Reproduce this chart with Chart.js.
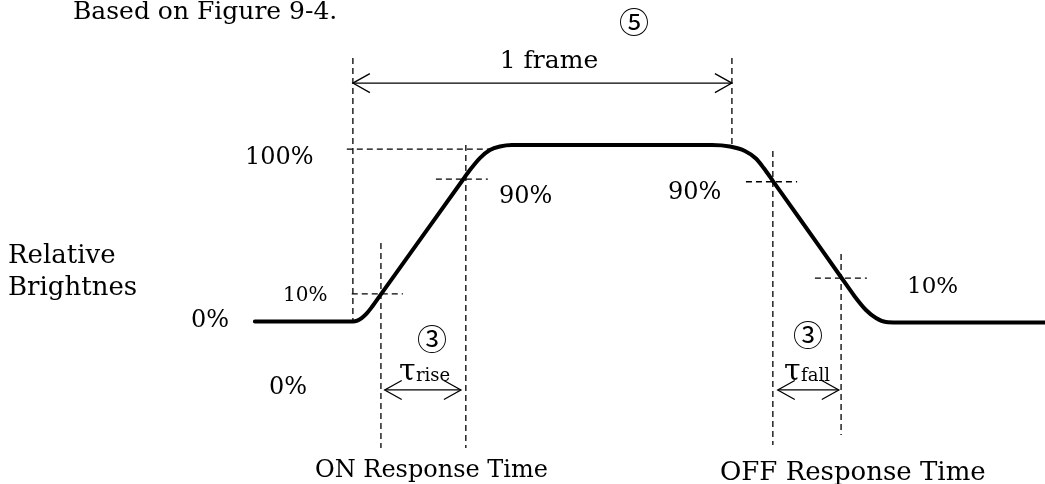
<!DOCTYPE html>
<html>
<head>
<meta charset="utf-8">
<script src="https://cdn.jsdelivr.net/npm/chart.js@4/dist/chart.umd.min.js"></script>
<style>
  html, body { margin: 0; padding: 0; background: #fff; }
  #wrap { width: 1045px; height: 484px; position: relative; }
</style>
</head>
<body>
<div id="wrap"><canvas id="c"></canvas></div>
<script>
// time in % of one frame (0 = frame start, 100 = frame end), level in % brightness
const curveTime  = [-25.86, 0, 1.16, 2.39, 3.66, 5.0, 7.39, 17.68, 28.23, 30.87, 33.51, 36.15, 38.79, 41.95,
                    94.72, 99.47, 103.43, 106.33, 108.44, 110.82, 117.94, 128.76, 132.45, 135.36, 138.0, 140.63, 143.54, 182.6];
const curveLevel = [0, 0, 0.51, 2.05, 4.6, 8.18, 15.35, 46.23, 77.9, 85.84, 92.63, 97.17, 99.15, 100,
                    100, 99.15, 96.6, 92.35, 86.8, 79.6, 58.07, 25.21, 14.05, 6.52, 1.98, -0.3, -0.57, -0.57];

// dashed guide segments: [t1, level1, t2, level2]
const guideLines = [
  [0, 149.3, 0, 0],          // frame start
  [100, 149.3, 100, 100],    // frame end
  [-1.6, 97.7, 37.0, 97.7],  // 100% level
  [-0.3, 15.6, 13.2, 15.6],  // rise 10%
  [7.4, 44.5, 7.4, -71.7],
  [21.9, 80.7, 35.6, 80.7],  // rise 90%
  [29.8, 100, 29.8, -71.7],
  [103.7, 79.2, 117.2, 79.2],// fall 90%
  [110.8, 96.6, 110.8, -70.0],
  [121.9, 24.6, 135.6, 24.6],// fall 10%
  [128.8, 38.2, 128.8, -64.3]
];

// double-headed arrows: [t1, t2, level]
const arrowLines = [
  [0, 100, 135.1],       // 1 frame
  [8.4, 28.5, -38.8],    // tau rise
  [112.1, 128.2, -38.8]  // tau fall
];

const SERIF = '"DejaVu Serif", serif';
const labels = [
  { text: 'Based on Figure 9-4.', x: 73, y: 19, size: 25 },
  { text: '1 frame', x: 549, y: 68, size: 25, align: 'center' },
  { text: '100%', x: 245, y: 164, size: 24 },
  { text: '90%', x: 499, y: 203, size: 24 },
  { text: '90%', x: 668, y: 199, size: 24 },
  { text: 'Relative', x: 8, y: 263, size: 26 },
  { text: 'Brightnes', x: 8, y: 295, size: 26 },
  { text: '10%', x: 283, y: 301, size: 20 },
  { text: '0%', x: 191, y: 327, size: 24 },
  { text: '10%', x: 907, y: 293, size: 23 },
  { text: '0%', x: 269, y: 394, size: 24 },
  { text: 'τ', x: 399, y: 380, size: 30 },
  { text: 'rise', x: 416, y: 381, size: 18 },
  { text: 'τ', x: 784, y: 380, size: 30 },
  { text: 'fall', x: 801, y: 381, size: 18 },
  { text: 'ON Response Time', x: 315, y: 477, size: 24 },
  { text: 'OFF Response Time', x: 720, y: 480, size: 26 }
];
const circled = [
  { text: '⑤', x: 634, y: 22 },
  { text: '③', x: 432, y: 339 },
  { text: '③', x: 808, y: 335 }
];

const datasets = [];
datasets.push({
  data: curveTime.map((t, i) => ({ x: t, y: curveLevel[i] })),
  borderColor: '#000', borderWidth: 4, pointRadius: 0,
  cubicInterpolationMode: 'monotone', borderCapStyle: 'round'
});
guideLines.forEach(g => datasets.push({
  data: [{ x: g[0], y: g[1] }, { x: g[2], y: g[3] }],
  borderColor: '#000', borderWidth: 1.3, borderDash: [6, 4], pointRadius: 0
}));
arrowLines.forEach(a => datasets.push({
  data: [{ x: a[0], y: a[2] }, { x: a[1], y: a[2] }],
  borderColor: '#000', borderWidth: 1.3, pointRadius: 0, isArrow: true
}));

const decorPlugin = {
  id: 'decor',
  afterDatasetsDraw(chart) {
    const ctx = chart.ctx;
    ctx.save();
    ctx.strokeStyle = '#000';
    ctx.lineWidth = 1.3;
    chart.data.datasets.forEach((ds, i) => {
      if (!ds.isArrow) return;
      const pts = chart.getDatasetMeta(i).data;
      const a = pts[0], b = pts[1];
      [[a, 1], [b, -1]].forEach(([p, dir]) => {
        ctx.beginPath();
        ctx.moveTo(p.x + dir * 17, p.y - 9.5);
        ctx.lineTo(p.x, p.y);
        ctx.lineTo(p.x + dir * 17, p.y + 9.5);
        ctx.stroke();
      });
    });
    ctx.fillStyle = '#000';
    ctx.textBaseline = 'alphabetic';
    labels.forEach(l => {
      ctx.font = l.size + 'px ' + SERIF;
      ctx.textAlign = l.align || 'left';
      ctx.fillText(l.text, l.x, l.y);
    });
    ctx.textAlign = 'center';
    ctx.textBaseline = 'middle';
    ctx.font = '30px "Noto Sans CJK JP", "DejaVu Sans", sans-serif';
    circled.forEach(c => ctx.fillText(c.text, c.x, c.y));
    ctx.restore();
  }
};

new Chart(document.getElementById('c'), {
  type: 'line',
  data: { datasets },
  options: {
    responsive: true,
    maintainAspectRatio: false,
    animation: false,
    layout: { padding: 0 },
    plugins: { legend: { display: false }, tooltip: { enabled: false } },
    scales: {
      x: { type: 'linear', display: false, min: -93.1, max: 182.6 },
      y: { type: 'linear', display: false, min: -92.1, max: 182.2 }
    }
  },
  plugins: [decorPlugin]
});
</script>
</body>
</html>
